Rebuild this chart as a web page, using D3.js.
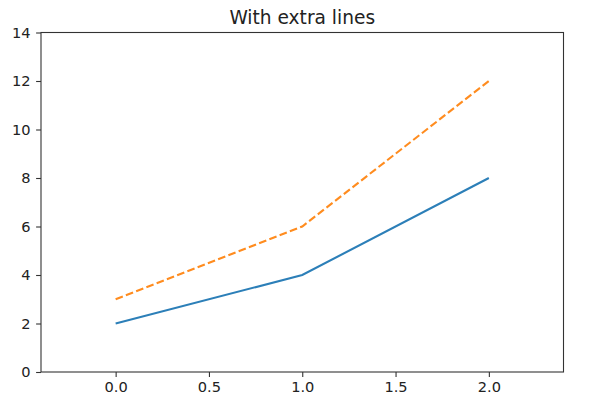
<!DOCTYPE html>
<html><head><meta charset="utf-8">
<script src="https://cdn.jsdelivr.net/npm/d3@7"></script>
<style>body{margin:0;background:#fff}svg{display:block}</style>
</head><body><svg id="c" width="600" height="406"></svg>
<script>
const xValues = [0, 1, 2];
const solidSeries = [2, 4, 8];
const dashedSeries = [3, 6, 12];
const xTicks = [0.0, 0.5, 1.0, 1.5, 2.0];
const yTicks = [0, 2, 4, 6, 8, 10, 12, 14];
const title = "With extra lines";

const svg = d3.select("#c");
const L = 41, R = 563.5, T = 32.5, B = 372;
const x = d3.scaleLinear().domain([-0.4, 2.4]).range([L, R]);
const y = d3.scaleLinear().domain([0, 14]).range([B, T]);
const font = "DejaVu Sans, sans-serif";

const gx = svg.append("g").attr("transform", `translate(0,${B})`)
  .call(d3.axisBottom(x).tickValues(xTicks).tickFormat(d3.format(".1f")).tickSizeOuter(0).tickSize(4.9).tickPadding(4.5));
const gy = svg.append("g").attr("transform", `translate(${L},0)`)
  .call(d3.axisLeft(y).tickValues(yTicks).tickFormat(d3.format("d")).tickSizeOuter(0).tickSize(4.9).tickPadding(5.5));
[gx, gy].forEach(g => {
  g.select(".domain").remove();
  g.selectAll("line").attr("stroke", "#333").attr("stroke-width", 1.1);
  g.selectAll("text").attr("fill", "#222").style("font-family", font).style("font-size", "14.6px");
});

const line = d3.line().x((d, i) => x(xValues[i])).y(d => y(d));
svg.append("path").datum(solidSeries).attr("d", line)
  .attr("fill", "none").attr("stroke", "#2c7fb8").attr("stroke-width", 2.1);
svg.append("path").datum(dashedSeries).attr("d", line)
  .attr("fill", "none").attr("stroke", "#ff8c1f").attr("stroke-width", 2.1)
  .attr("stroke-dasharray", "7.7,3.3");

svg.append("rect").attr("x", L).attr("y", T).attr("width", R - L).attr("height", B - T)
  .attr("fill", "none").attr("stroke", "#333").attr("stroke-width", 1.1);

svg.append("text").attr("x", (L + R) / 2).attr("y", T - 8.5).attr("text-anchor", "middle")
  .attr("fill", "#222").style("font-family", font).style("font-size", "18.6px").text(title);
</script></body></html>
